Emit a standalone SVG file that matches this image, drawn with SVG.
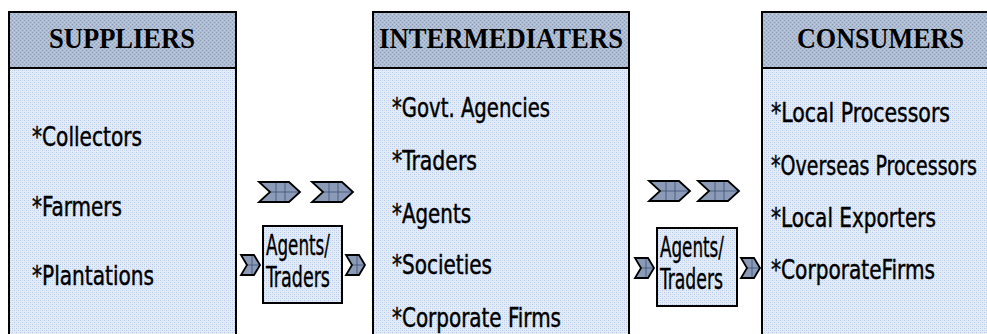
<svg xmlns="http://www.w3.org/2000/svg" width="987" height="334" viewBox="0 0 987 334">
  <defs>
    <!-- dotted light-blue fill for box bodies -->
    <pattern id="bodyFill" width="4" height="4" patternUnits="userSpaceOnUse">
      <rect width="4" height="4" fill="#E4ECF7"/>
      <rect x="0" y="0" width="1" height="1" fill="#B5C8E4"/>
      <rect x="2" y="2" width="1" height="1" fill="#B5C8E4"/>
      <rect x="2" y="0" width="1" height="1" fill="#CFDCEF"/>
      <rect x="0" y="2" width="1" height="1" fill="#CFDCEF"/>
    </pattern>
    <!-- dotted slate-blue fill for header bands -->
    <pattern id="headFill" width="4" height="4" patternUnits="userSpaceOnUse">
      <rect width="4" height="4" fill="#AEBCD2"/>
      <rect x="0" y="0" width="1" height="1" fill="#8A9BB8"/>
      <rect x="2" y="2" width="1" height="1" fill="#8A9BB8"/>
      <rect x="2" y="0" width="1" height="1" fill="#C2CEDF"/>
      <rect x="0" y="2" width="1" height="1" fill="#C2CEDF"/>
    </pattern>
    <!-- wide chevron with grid -->
    <symbol id="chevBig" viewBox="-1 -1 43 22" width="43" height="22" overflow="visible">
      <polygon points="0,0 30,0 41,10 30,20 0,20 11,10" fill="#8B9BB7"/>
      <g stroke="#3E5275" stroke-width="0.8">
        <line x1="17" y1="0" x2="17" y2="20"/>
        <line x1="26" y1="0" x2="26" y2="20"/>
        <line x1="11" y1="10" x2="41" y2="10"/>
      </g>
      <polygon points="0,0 30,0 41,10 30,20 0,20 11,10" fill="none" stroke="#000" stroke-width="1.8"/>
    </symbol>
    <!-- narrow chevron with grid -->
    <symbol id="chevSmall" viewBox="-1 -1 22 22" width="22" height="22" overflow="visible">
      <polygon points="0,0 13,0 19,10 13,20 0,20 6,10" fill="#8B9BB7"/>
      <g stroke="#3E5275" stroke-width="0.8">
        <line x1="11" y1="0" x2="11" y2="20"/>
        <line x1="6" y1="10" x2="19" y2="10"/>
      </g>
      <polygon points="0,0 13,0 19,10 13,20 0,20 6,10" fill="none" stroke="#000" stroke-width="1.8"/>
    </symbol>
  </defs>
  <style>
    .box { fill: url(#bodyFill); stroke: #000; stroke-width: 2; }
    .head { fill: url(#headFill); stroke: #000; stroke-width: 2; }
    .title { font-family: "Liberation Serif", "Times New Roman", serif; font-weight: bold; font-size: 30px; fill: #000; }
    .item { font-family: "Liberation Sans Narrow", "DejaVu Sans Condensed", "Liberation Sans", sans-serif; font-stretch: condensed; font-size: 27px; fill: #000; stroke: #000; stroke-width: 0.45; }
    .label { font-family: "Liberation Sans Narrow", "DejaVu Sans Condensed", "Liberation Sans", sans-serif; font-stretch: condensed; font-size: 28px; fill: #000; stroke: #000; stroke-width: 0.35; }
  </style>

  <rect width="987" height="334" fill="#fff"/>

  <!-- Suppliers -->
  <g id="suppliers">
    <rect class="box" x="9" y="12" width="227" height="340"/>
    <rect class="head" x="9" y="12" width="227" height="56"/>
    <text class="title" x="49" y="48" textLength="146" lengthAdjust="spacingAndGlyphs">SUPPLIERS</text>
    <text class="item" x="32" y="146" textLength="110" lengthAdjust="spacingAndGlyphs">*Collectors</text>
    <text class="item" x="32" y="216" textLength="90" lengthAdjust="spacingAndGlyphs">*Farmers</text>
    <text class="item" x="32" y="285" textLength="122" lengthAdjust="spacingAndGlyphs">*Plantations</text>
  </g>

  <!-- Intermediaters -->
  <g id="intermediaters">
    <rect class="box" x="373" y="12" width="256" height="340"/>
    <rect class="head" x="373" y="12" width="256" height="56"/>
    <text class="title" x="379" y="48" textLength="244" lengthAdjust="spacingAndGlyphs">INTERMEDIATERS</text>
    <text class="item" x="392" y="117" textLength="158" lengthAdjust="spacingAndGlyphs">*Govt. Agencies</text>
    <text class="item" x="392" y="170" textLength="85" lengthAdjust="spacingAndGlyphs">*Traders</text>
    <text class="item" x="392" y="223" textLength="79" lengthAdjust="spacingAndGlyphs">*Agents</text>
    <text class="item" x="392" y="274" textLength="100" lengthAdjust="spacingAndGlyphs">*Societies</text>
    <text class="item" x="392" y="327" textLength="169" lengthAdjust="spacingAndGlyphs">*Corporate Firms</text>
  </g>

  <!-- Consumers -->
  <g id="consumers">
    <rect class="box" x="762" y="12" width="240" height="340"/>
    <rect class="head" x="762" y="12" width="240" height="56"/>
    <text class="title" x="797" y="48" textLength="167" lengthAdjust="spacingAndGlyphs">CONSUMERS</text>
    <text class="item" x="771" y="122" textLength="179" lengthAdjust="spacingAndGlyphs">*Local Processors</text>
    <text class="item" x="771" y="175" textLength="206" lengthAdjust="spacingAndGlyphs">*Overseas Processors</text>
    <text class="item" x="771" y="227" textLength="165" lengthAdjust="spacingAndGlyphs">*Local Exporters</text>
    <text class="item" x="771" y="279" textLength="164" lengthAdjust="spacingAndGlyphs">*CorporateFirms</text>
  </g>

  <!-- Agents/Traders between suppliers and intermediaters -->
  <g id="agents-traders-1">
    <rect class="box" x="263" y="226" width="79" height="77"/>
    <text class="label" x="266" y="255" textLength="64" lengthAdjust="spacingAndGlyphs">Agents/</text>
    <text class="label" x="266" y="287" textLength="64" lengthAdjust="spacingAndGlyphs">Traders</text>
  </g>

  <!-- Agents/Traders between intermediaters and consumers -->
  <g id="agents-traders-2">
    <rect class="box" x="657" y="228" width="80" height="78"/>
    <text class="label" x="660" y="257" textLength="64" lengthAdjust="spacingAndGlyphs">Agents/</text>
    <text class="label" x="660" y="289" textLength="63" lengthAdjust="spacingAndGlyphs">Traders</text>
  </g>

  <!-- flow chevrons -->
  <g id="connectors">
    <use href="#chevBig" x="258" y="181"/>
    <use href="#chevBig" x="311" y="181"/>
    <use href="#chevSmall" x="240" y="254"/>
    <use href="#chevSmall" x="345" y="254"/>
    <use href="#chevBig" x="648" y="180"/>
    <use href="#chevBig" x="697" y="180"/>
    <use href="#chevSmall" x="634" y="257"/>
    <use href="#chevSmall" x="740" y="257"/>
  </g>
</svg>
